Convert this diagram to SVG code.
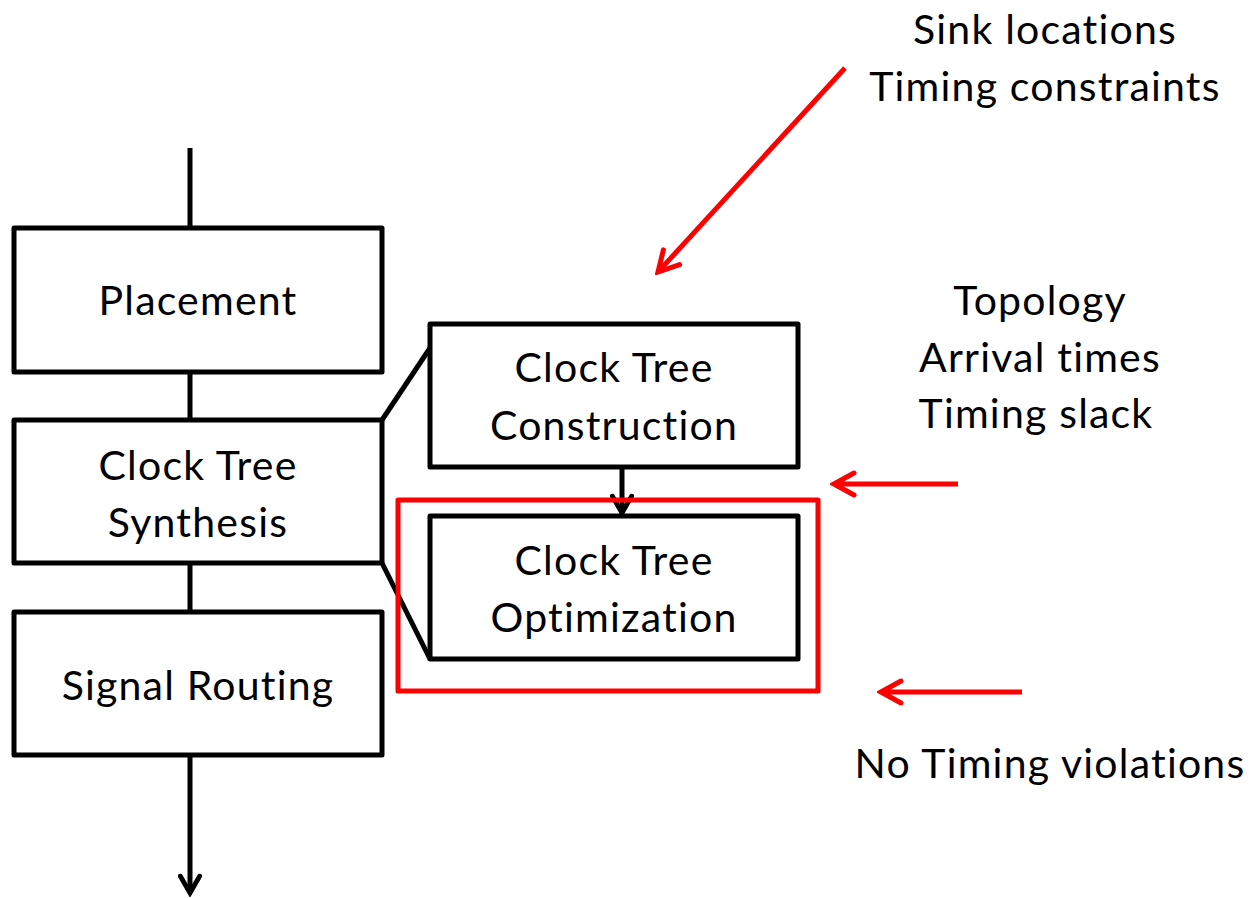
<svg xmlns="http://www.w3.org/2000/svg" width="1253" height="898" viewBox="0 0 1253 898">
  <style>
    .box { fill: #ffffff; stroke: #000000; stroke-width: 5; stroke-linejoin: round; }
    .wire { fill: none; stroke: #000000; stroke-width: 5; }
    .red { fill: none; stroke: #ff0000; stroke-width: 5; }
    .label { font-family: Lato, "Liberation Sans", sans-serif; font-size: 41px; letter-spacing: 1.2px; fill: #000000; text-anchor: middle; }
  </style>
  <defs>
    <marker id="arrowBlackBig" viewBox="0 0 20 20" refX="17" refY="10" markerWidth="24" markerHeight="24" markerUnits="userSpaceOnUse" orient="auto">
      <path d="M3,2 L17,10 L3,18" fill="none" stroke="#000000" stroke-width="4" stroke-linecap="round"/>
    </marker>
    <marker id="arrowRed" viewBox="0 0 30 30" refX="26" refY="15" markerWidth="30" markerHeight="30" markerUnits="userSpaceOnUse" orient="auto">
      <path d="M6,4 L26,15 L6,26" fill="none" stroke="#ff0000" stroke-width="5" stroke-linecap="round"/>
    </marker>
  </defs>

  <!-- connectors -->
  <g id="connectors">
    <line class="wire" x1="190" y1="148" x2="190" y2="228"/>
    <line class="wire" x1="190" y1="372" x2="190" y2="420"/>
    <line class="wire" x1="190" y1="563" x2="190" y2="612"/>
    <line class="wire" x1="190" y1="755" x2="190" y2="893" marker-end="url(#arrowBlackBig)"/>
    <polyline class="wire" points="382,420 430,348"/>
    <polyline class="wire" points="382,563 430,659"/>
    <line class="wire" x1="622" y1="467" x2="622" y2="513" marker-end="url(#arrowBlackBig)"/>
    <line class="red" x1="845" y1="68" x2="658" y2="272" marker-end="url(#arrowRed)"/>
    <line class="red" x1="958" y1="484" x2="834" y2="484" marker-end="url(#arrowRed)"/>
    <line class="red" x1="1022" y1="692" x2="881" y2="692" marker-end="url(#arrowRed)"/>
  </g>

  <!-- main flow -->
  <g id="placement">
    <rect class="box" x="14" y="228" width="368" height="144"/>
    <text class="label" x="198" y="315">Placement</text>
  </g>
  <g id="cts">
    <rect class="box" x="14" y="420" width="368" height="143"/>
    <text class="label" x="198" y="480">Clock Tree</text>
    <text class="label" x="198" y="537">Synthesis</text>
  </g>
  <g id="routing">
    <rect class="box" x="14" y="612" width="368" height="143"/>
    <text class="label" x="198" y="700">Signal Routing</text>
  </g>

  <!-- CTS sub-steps -->
  <g id="ctc">
    <rect class="box" x="430" y="324" width="368" height="143"/>
    <text class="label" x="614" y="382">Clock Tree</text>
    <text class="label" x="614" y="440">Construction</text>
  </g>
  <g id="cto">
    <rect class="box" x="430" y="516" width="368" height="143"/>
    <text class="label" x="614" y="575">Clock Tree</text>
    <text class="label" x="614" y="632">Optimization</text>
  </g>
  <g id="highlight">
    <rect x="398" y="500" width="420" height="191" fill="none" stroke="#ff0000" stroke-width="5" stroke-linejoin="round"/>
  </g>

  <!-- annotations -->
  <g id="inputs">
    <text class="label" x="1045" y="44">Sink locations</text>
    <text class="label" x="1045" y="101">Timing constraints</text>
  </g>
  <g id="outputs">
    <text class="label" x="1040" y="315">Topology</text>
    <text class="label" x="1040" y="372">Arrival times</text>
    <text class="label" x="1036" y="428">Timing slack</text>
  </g>
  <g id="goal">
    <text class="label" x="1050" y="778">No Timing violations</text>
  </g>
</svg>
